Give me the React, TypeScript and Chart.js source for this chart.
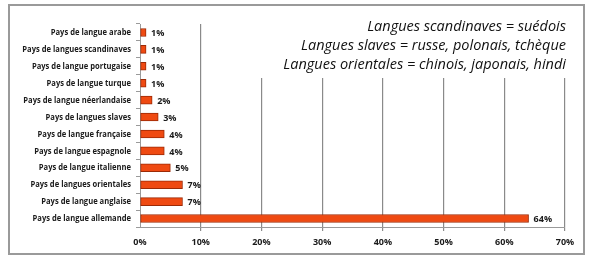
import React, { useEffect, useRef } from "react";
import { Chart, registerables } from "chart.js";

Chart.register(...registerables);

const categories = [
  "Pays de langue arabe",
  "Pays de langues scandinaves",
  "Pays de langue portugaise",
  "Pays de langue turque",
  "Pays de langue néerlandaise",
  "Pays de langues slaves",
  "Pays de langue française",
  "Pays de langue espagnole",
  "Pays de langue italienne",
  "Pays de langues orientales",
  "Pays de langue anglaise",
  "Pays de langue allemande",
];
const values = [1, 1, 1, 1, 2, 3, 4, 4, 5, 7, 7, 64];
const notes = [
  "Langues scandinaves = suédois",
  "Langues slaves = russe, polonais, tchèque",
  "Langues orientales = chinois, japonais, hindi",
];

const LABEL_FONT = "'Open Sans', 'DejaVu Sans', sans-serif";

function drawSqueezed(ctx: any, text: string, x: number, y: number, align: string, sq: number) {
  ctx.save();
  ctx.translate(x, y);
  ctx.scale(sq, 1);
  ctx.textAlign = align;
  ctx.fillText(text, 0, 0);
  ctx.restore();
}

const decorPlugin = {
  id: "decor",
  beforeDraw(chart: any) {
    const ctx = chart.ctx;
    ctx.save();
    ctx.fillStyle = "#ffffff";
    ctx.fillRect(0, 0, chart.width, chart.height);
    ctx.restore();
  },
  afterDatasetsDraw(chart: any) {
    const ctx = chart.ctx;
    const meta = chart.getDatasetMeta(0);
    const yScale = chart.scales.y;
    ctx.save();
    ctx.fillStyle = "#1a1a1a";
    ctx.textBaseline = "middle";
    ctx.font = "bold 9.5px " + LABEL_FONT;
    meta.data.forEach((bar: any, i: number) => {
      drawSqueezed(ctx, values[i] + "%", bar.x + 5, bar.y + 1, "left", 0.95);
    });
    categories.forEach((c, i) => {
      drawSqueezed(ctx, c, yScale.right - 9, yScale.getPixelForValue(i), "right", 0.8);
    });
    ctx.restore();
  },
  afterDraw(chart: any) {
    const ctx = chart.ctx;
    ctx.save();
    ctx.fillStyle = "#ffffff";
    ctx.fillRect(228, 10, 350, 68);
    ctx.font = "italic 14.5px 'Open Sans', 'DejaVu Sans', sans-serif";
    ctx.fillStyle = "#111";
    ctx.textAlign = "right";
    ctx.textBaseline = "middle";
    notes.forEach((t, i) => ctx.fillText(t, 566, 27 + i * 19));
    ctx.strokeStyle = "#9a9a9a";
    ctx.lineWidth = 2;
    ctx.strokeRect(9, 5, 575, 249);
    ctx.restore();
  },
};

export default function App() {
  const ref = useRef<HTMLCanvasElement>(null);
  useEffect(() => {
    const chart = new Chart(ref.current!, {
      type: "bar",
      data: {
        labels: categories,
        datasets: [
          {
            data: values,
            backgroundColor: "#ef4a12",
            borderColor: "#9c2a06",
            borderWidth: 1,
            barThickness: 8,
            borderSkipped: false,
          },
        ],
      },
      options: {
        indexAxis: "y",
        animation: false,
        responsive: false,
        maintainAspectRatio: false,
        layout: { padding: { left: 8, right: 24, top: 24, bottom: 0 } },
        plugins: { legend: { display: false }, tooltip: { enabled: false } },
        scales: {
          x: {
            min: 0,
            max: 70,
            ticks: {
              stepSize: 10,
              callback: (v: any) => v + "%",
              font: { family: LABEL_FONT, size: 9, weight: "bold" },
              color: "#1a1a1a",
              padding: 6,
            },
            grid: {
              color: (c: any) => (c.tick && c.tick.value === 0 ? "rgba(0,0,0,0)" : "#8a8a8a"),
              lineWidth: 1.2,
              drawTicks: true,
              tickLength: 4,
            },
            border: { display: true, color: "#9a9a9a", width: 1 },
            afterFit: (s: any) => {
              s.height = 31;
            },
          },
          y: {
            ticks: {
              font: { family: LABEL_FONT, size: 9, weight: "bold" },
              color: "rgba(0,0,0,0)",
              padding: 5,
              autoSkip: false,
            },
            grid: {
              drawOnChartArea: false,
              drawTicks: true,
              tickLength: 4,
              color: "#9a9a9a",
              offset: true,
            },
            border: { display: true, color: "#9a9a9a", width: 1 },
            afterFit: (s: any) => {
              s.width = 132;
            },
          },
        },
      },
      plugins: [decorPlugin],
    } as any);
    return () => chart.destroy();
  }, []);
  return (
    <div style={{ position: "absolute", left: 0, top: 0, width: 589, height: 258 }}>
      <canvas ref={ref} width={589} height={258} style={{ display: "block" }} />
    </div>
  );
}
